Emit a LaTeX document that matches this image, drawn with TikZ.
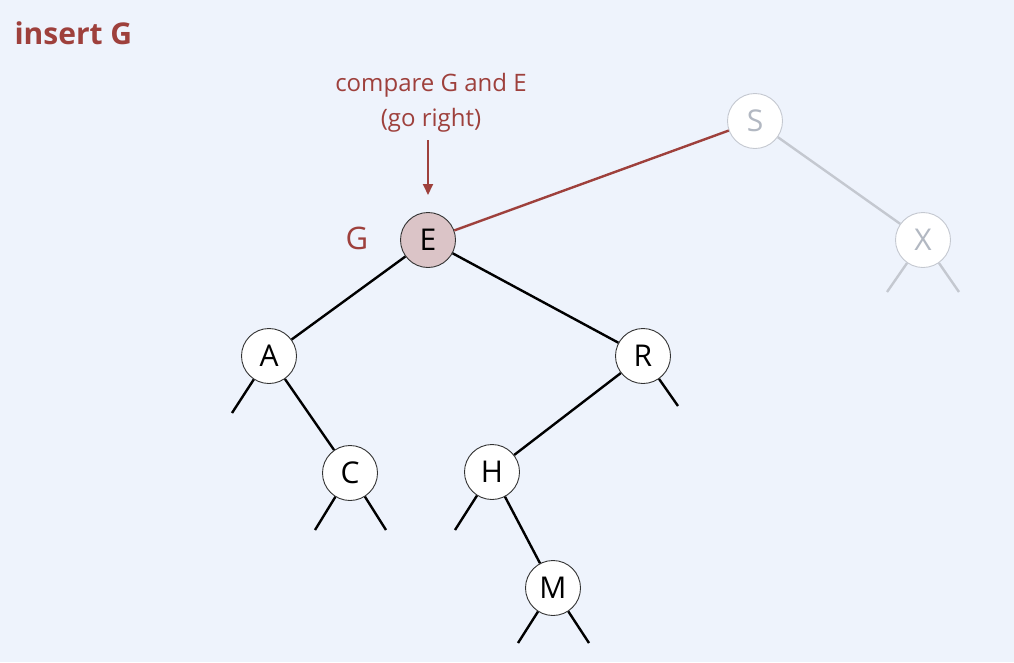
\documentclass[tikz,border=0pt]{standalone}
\usepackage{fontspec}
\setmainfont{Open Sans}
\usetikzlibrary{arrows.meta}
\definecolor{bg}{RGB}{238,243,252}
\definecolor{accent}{RGB}{158,64,60}
\definecolor{hit}{RGB}{219,196,199}
\definecolor{faded}{RGB}{196,200,208}
\definecolor{fadedtext}{RGB}{178,184,194}
\tikzset{
  bstnode/.style={circle, draw=black!80, line width=0.9pt, fill=white,
    minimum size=55pt, inner sep=0pt, font=\fontsize{30}{30}\selectfont},
  ghostnode/.style={bstnode, draw=faded, text=fadedtext},
  link/.style={line width=2.4pt, black},
  ghostlink/.style={line width=2.4pt, faded},
  hotlink/.style={line width=2.4pt, accent},
  note/.style={text=accent, font=\fontsize{24}{35}\selectfont, align=center}
}
\begin{document}
\begin{tikzpicture}[x=1pt, y=-1pt]
  \fill[bg] (0,0) rectangle (1014,662);
  \useasboundingbox (0,0) rectangle (1014,662);

  % title
  \node[anchor=west, text=accent, font=\bfseries\fontsize{30}{30}\selectfont] (title) at (11,33) {insert G};

  % tree nodes
  \node[bstnode, fill=hit] (E) at (428,240) {E};
  \node[ghostnode] (S) at (755,121) {S};
  \node[ghostnode] (X) at (923,240) {X};
  \node[bstnode] (A) at (269,356) {A};
  \node[bstnode] (R) at (643,356) {R};
  \node[bstnode] (C) at (350,473) {C};
  \node[bstnode] (H) at (492,472) {H};
  \node[bstnode] (M) at (553,588) {M};

  % free ends of the null links
  \coordinate (Al) at (232,413);
  \coordinate (Rr) at (678,406);
  \coordinate (Cl) at (315,530);
  \coordinate (Cr) at (386,530);
  \coordinate (Hl) at (455,530);
  \coordinate (Ml) at (518,643);
  \coordinate (Mr) at (589,643);
  \coordinate (Xl) at (887,292);
  \coordinate (Xr) at (959,292);

  % links
  \draw[hotlink] (E) -- (S);
  \draw[ghostlink] (S) -- (X);
  \draw[ghostlink] (X) -- (Xl);
  \draw[ghostlink] (X) -- (Xr);
  \draw[link] (E) -- (A);
  \draw[link] (E) -- (R);
  \draw[link] (A) -- (Al);
  \draw[link] (A) -- (C);
  \draw[link] (C) -- (Cl);
  \draw[link] (C) -- (Cr);
  \draw[link] (R) -- (H);
  \draw[link] (R) -- (Rr);
  \draw[link] (H) -- (Hl);
  \draw[link] (H) -- (M);
  \draw[link] (M) -- (Ml);
  \draw[link] (M) -- (Mr);

  % key being inserted and the comparison note
  \node[text=accent, font=\fontsize{31}{31}\selectfont] (key) at (357,238) {G};
  \node[note] (cmp) at (431,103) {compare G and E\\(go right)};
  \coordinate (arrtop) at (428,140);
  \draw[accent, line width=1.8pt, -{Triangle[length=11pt,width=10pt]}] (arrtop) -- (428,195);
\end{tikzpicture}
\end{document}
